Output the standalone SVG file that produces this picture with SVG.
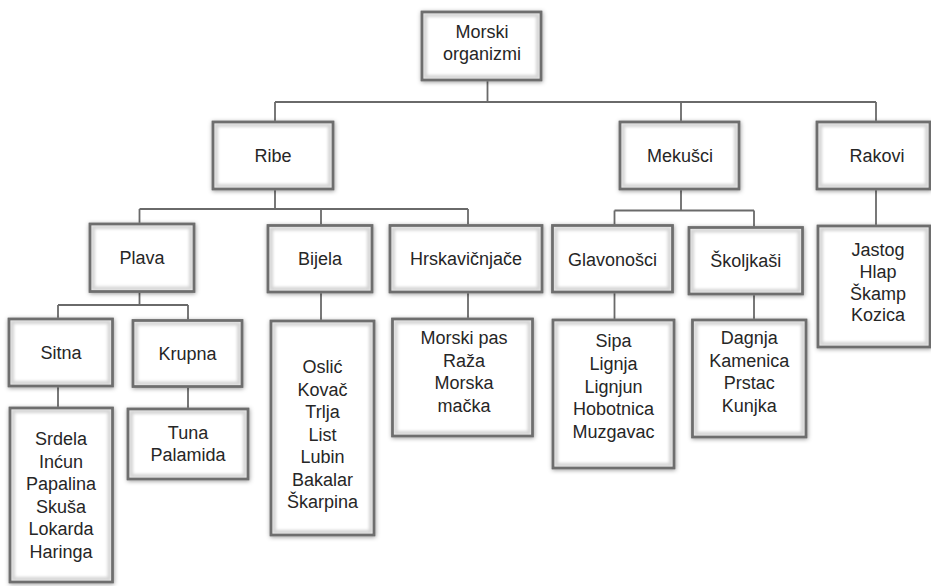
<svg xmlns="http://www.w3.org/2000/svg" width="931" height="586" viewBox="0 0 931 586">
<defs>
<filter id="sh" x="-20%" y="-20%" width="140%" height="140%">
<feDropShadow dx="0.5" dy="1" stdDeviation="2" flood-color="#000" flood-opacity="0.4"/>
</filter>
<filter id="gl" x="-10%" y="-10%" width="120%" height="120%">
<feGaussianBlur stdDeviation="1.6"/>
</filter>
</defs>
<style>
.bg{fill:#fff;stroke:#8a8a8a;stroke-width:2.5;filter:url(#sh)}
.gl{fill:none;stroke:#d4d4d4;stroke-width:4;filter:url(#gl)}
.bd{fill:none;stroke:#6e6e6e;stroke-width:2.6}
.c{fill:none;stroke:#6a6a6a;stroke-width:1.8}
text{font-family:"Liberation Sans",Arial,sans-serif;font-size:18px;fill:#262626;text-anchor:middle}
</style>
<rect width="931" height="586" fill="#fff"/>
<g id="connectors">
<path class="c" d="M487.5 80V102M275 102H876M275 102V122M681 102V122M876 102V122"/>
<path class="c" d="M275 189V209M139.5 209H468M139.5 209V224M321 209V226M468 209V226"/>
<path class="c" d="M681 189V210.5M614.5 210.5H754M614.5 210.5V226M754 210.5V228"/>
<path class="c" d="M876 189V226"/>
<path class="c" d="M139.5 292V305M58 305H188M58 305V319M188 305V321"/>
<path class="c" d="M58 386V408M188 386.5V409M321 292V321M468 292V319M614.5 292V320M754 294V320"/>
</g>
<g id="n-morski">
<rect class="bg" x="422" y="12" width="119" height="68"/><rect class="gl" x="425" y="15" width="113" height="62"/><rect class="bd" x="422" y="12" width="119" height="68"/>
<text x="482" y="37.5">Morski</text><text x="482" y="60">organizmi</text>
</g>
<g id="n-ribe">
<rect class="bg" x="213" y="122" width="120" height="67"/><rect class="gl" x="216" y="125" width="114" height="61"/><rect class="bd" x="213" y="122" width="120" height="67"/>
<text x="273" y="161.5">Ribe</text>
</g>
<g id="n-mekusci">
<rect class="bg" x="620" y="122" width="119" height="67"/><rect class="gl" x="623" y="125" width="113" height="61"/><rect class="bd" x="620" y="122" width="119" height="67"/>
<text x="680" y="161.5">Mekušci</text>
</g>
<g id="n-rakovi">
<rect class="bg" x="817" y="122" width="113" height="67"/><rect class="gl" x="820" y="125" width="107" height="61"/><rect class="bd" x="817" y="122" width="113" height="67"/>
<text x="877" y="161.5">Rakovi</text>
</g>
<g id="n-plava">
<rect class="bg" x="90" y="224" width="104" height="67.5"/><rect class="gl" x="93" y="227" width="98" height="61.5"/><rect class="bd" x="90" y="224" width="104" height="67.5"/>
<text x="142" y="264">Plava</text>
</g>
<g id="n-bijela">
<rect class="bg" x="268" y="225.5" width="104" height="66.5"/><rect class="gl" x="271" y="228.5" width="98" height="60.5"/><rect class="bd" x="268" y="225.5" width="104" height="66.5"/>
<text x="320" y="265">Bijela</text>
</g>
<g id="n-hrskavicnjace">
<rect class="bg" x="390" y="225.5" width="152" height="66.5"/><rect class="gl" x="393" y="228.5" width="146" height="60.5"/><rect class="bd" x="390" y="225.5" width="152" height="66.5"/>
<text x="466" y="265">Hrskavičnjače</text>
</g>
<g id="n-glavonosci">
<rect class="bg" x="552.5" y="225.5" width="120" height="66.5"/><rect class="gl" x="555.5" y="228.5" width="114" height="60.5"/><rect class="bd" x="552.5" y="225.5" width="120" height="66.5"/>
<text x="612.5" y="266">Glavonošci</text>
</g>
<g id="n-skoljkasi">
<rect class="bg" x="689" y="227.5" width="113.5" height="66.5"/><rect class="gl" x="692" y="230.5" width="107.5" height="60.5"/><rect class="bd" x="689" y="227.5" width="113.5" height="66.5"/>
<text x="745.8" y="266.5">Školjkaši</text>
</g>
<g id="n-sitna">
<rect class="bg" x="9" y="319" width="103.5" height="67"/><rect class="gl" x="12" y="322" width="97.5" height="61"/><rect class="bd" x="9" y="319" width="103.5" height="67"/>
<text x="61" y="358.5">Sitna</text>
</g>
<g id="n-krupna">
<rect class="bg" x="133" y="320.5" width="109" height="66"/><rect class="gl" x="136" y="323.5" width="103" height="60"/><rect class="bd" x="133" y="320.5" width="109" height="66"/>
<text x="187.5" y="359.5">Krupna</text>
</g>
<g id="n-sitna-list">
<rect class="bg" x="10" y="408" width="102.5" height="174"/><rect class="gl" x="13" y="411" width="96.5" height="168"/><rect class="bd" x="10" y="408" width="102.5" height="174"/>
<text x="61" y="445">Srdela</text><text x="61" y="467.6">Inćun</text><text x="61" y="490.2">Papalina</text><text x="61" y="512.8">Skuša</text><text x="61" y="535.4">Lokarda</text><text x="61" y="558">Haringa</text>
</g>
<g id="n-krupna-list">
<rect class="bg" x="128" y="409" width="120" height="70"/><rect class="gl" x="131" y="412" width="114" height="64"/><rect class="bd" x="128" y="409" width="120" height="70"/>
<text x="188" y="438.5">Tuna</text><text x="188" y="461">Palamida</text>
</g>
<g id="n-bijela-list">
<rect class="bg" x="271" y="321" width="103" height="214"/><rect class="gl" x="274" y="324" width="97" height="208"/><rect class="bd" x="271" y="321" width="103" height="214"/>
<text x="322.5" y="373.3">Oslić</text><text x="322.5" y="395.8">Kovač</text><text x="322.5" y="418.3">Trlja</text><text x="322.5" y="440.8">List</text><text x="322.5" y="463.3">Lubin</text><text x="322.5" y="485.8">Bakalar</text><text x="322.5" y="508.3">Škarpina</text>
</g>
<g id="n-hrskavicnjace-list">
<rect class="bg" x="392.5" y="319" width="140" height="117"/><rect class="gl" x="395.5" y="322" width="134" height="111"/><rect class="bd" x="392.5" y="319" width="140" height="117"/>
<text x="464" y="344.3">Morski pas</text><text x="464" y="366.8">Raža</text><text x="464" y="389.3">Morska</text><text x="464" y="411.8">mačka</text>
</g>
<g id="n-glavonosci-list">
<rect class="bg" x="553" y="320" width="121" height="148"/><rect class="gl" x="556" y="323" width="115" height="142"/><rect class="bd" x="553" y="320" width="121" height="148"/>
<text x="613.5" y="347.3">Sipa</text><text x="613.5" y="369.9">Lignja</text><text x="613.5" y="392.5">Lignjun</text><text x="613.5" y="415.1">Hobotnica</text><text x="613.5" y="437.7">Muzgavac</text>
</g>
<g id="n-skoljkasi-list">
<rect class="bg" x="692.5" y="320" width="113.5" height="117"/><rect class="gl" x="695.5" y="323" width="107.5" height="111"/><rect class="bd" x="692.5" y="320" width="113.5" height="117"/>
<text x="749.3" y="344.3">Dagnja</text><text x="749.3" y="366.8">Kamenica</text><text x="749.3" y="389.3">Prstac</text><text x="749.3" y="411.8">Kunjka</text>
</g>
<g id="n-rakovi-list">
<rect class="bg" x="818" y="226" width="112" height="121"/><rect class="gl" x="821" y="229" width="106" height="115"/><rect class="bd" x="818" y="226" width="112" height="121"/>
<text x="878" y="256">Jastog</text><text x="878" y="278">Hlap</text><text x="878" y="299.5">Škamp</text><text x="878" y="321">Kozica</text>
</g>
</svg>
